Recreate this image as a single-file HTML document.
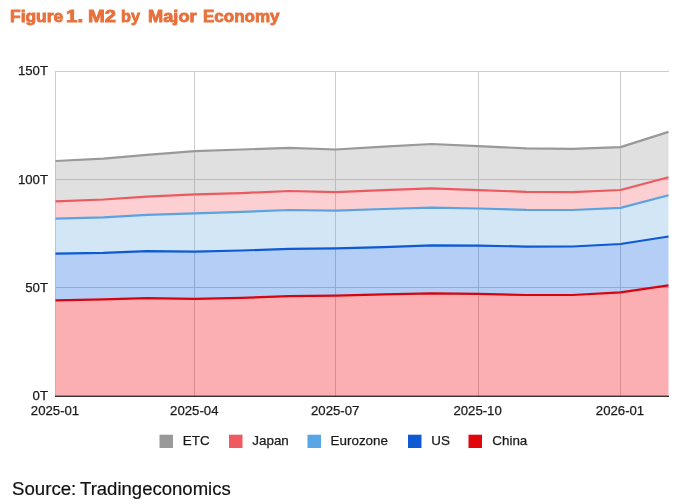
<!DOCTYPE html>
<html><head><meta charset="utf-8"><title>Figure 1. M2 by Major Economy</title>
<style>
html,body{margin:0;padding:0;background:#fff}
body{width:680px;height:504px;position:relative;overflow:hidden;font-family:"Liberation Sans",Arial,sans-serif}
.title{position:absolute;left:0;top:5.0px;width:680px;height:22px;font-size:16.3px;font-weight:bold;color:#e8703a;-webkit-text-stroke:0.8px #e8703a;white-space:nowrap;line-height:22px}
.source{-webkit-text-stroke:0.2px #111;position:absolute;left:0;top:476.7px;width:680px;height:24px;font-size:18.3px;color:#111;white-space:nowrap;line-height:24px}
.title span,.source span{position:absolute;top:0;transform-origin:0 50%;display:block}
</style></head><body>
<div class="title" id="title"><span style="left:10.0px;transform:scaleX(1.07)">Figure</span> <span style="left:65.6px;transform:scaleX(1.26)">1.</span> <span style="left:87.9px;transform:scaleX(1.24)">M2</span> <span style="left:121.0px;transform:scaleX(1.0)">by</span> <span style="left:147.6px;transform:scaleX(1.12)">Major</span> <span style="left:203.2px;transform:scaleX(1.045)">Economy</span></div>
<svg width="680" height="504" viewBox="0 0 680 504" style="position:absolute;left:0;top:0">
<rect x="55" y="71" width="1" height="325" fill="#cccccc"/>
<rect x="194" y="71" width="1" height="325" fill="#cccccc"/>
<rect x="335" y="71" width="1" height="325" fill="#cccccc"/>
<rect x="478" y="71" width="1" height="325" fill="#cccccc"/>
<rect x="620" y="71" width="1" height="325" fill="#cccccc"/>
<rect x="55" y="71" width="614" height="1" fill="#cccccc"/>
<rect x="55" y="179" width="614" height="1" fill="#cccccc"/>
<rect x="55" y="287" width="614" height="1" fill="#cccccc"/>
<polygon points="55.5,300.3 103.5,299.4 146.8,298.2 194.8,298.8 241.3,297.9 289.2,296.2 335.7,295.7 383.7,294.4 431.7,293.3 478.1,293.8 526.1,295.0 572.5,295.0 620.5,292.3 668.5,285.4 668.5,396.0 620.5,396.0 572.5,396.0 526.1,396.0 478.1,396.0 431.7,396.0 383.7,396.0 335.7,396.0 289.2,396.0 241.3,396.0 194.8,396.0 146.8,396.0 103.5,396.0 55.5,396.0" fill="#f20511" fill-opacity="0.32"/>
<polygon points="55.5,253.7 103.5,252.9 146.8,251.1 194.8,251.7 241.3,250.5 289.2,248.8 335.7,248.4 383.7,247.1 431.7,245.4 478.1,245.6 526.1,246.6 572.5,246.5 620.5,244.0 668.5,236.5 668.5,285.4 620.5,292.3 572.5,295.0 526.1,295.0 478.1,293.8 431.7,293.3 383.7,294.4 335.7,295.7 289.2,296.2 241.3,297.9 194.8,298.8 146.8,298.2 103.5,299.4 55.5,300.3" fill="#085cde" fill-opacity="0.3"/>
<polygon points="55.5,218.6 103.5,217.4 146.8,214.8 194.8,213.3 241.3,211.9 289.2,210.0 335.7,210.6 383.7,209.0 431.7,207.6 478.1,208.5 526.1,209.8 572.5,210.0 620.5,207.9 668.5,195.2 668.5,236.5 620.5,244.0 572.5,246.5 526.1,246.6 478.1,245.6 431.7,245.4 383.7,247.1 335.7,248.4 289.2,248.8 241.3,250.5 194.8,251.7 146.8,251.1 103.5,252.9 55.5,253.7" fill="#69ace1" fill-opacity="0.3"/>
<polygon points="55.5,201.4 103.5,199.5 146.8,196.7 194.8,194.3 241.3,193.1 289.2,191.0 335.7,192.2 383.7,190.2 431.7,188.3 478.1,190.1 526.1,191.8 572.5,192.1 620.5,190.0 668.5,177.3 668.5,195.2 620.5,207.9 572.5,210.0 526.1,209.8 478.1,208.5 431.7,207.6 383.7,209.0 335.7,210.6 289.2,210.0 241.3,211.9 194.8,213.3 146.8,214.8 103.5,217.4 55.5,218.6" fill="#f55f69" fill-opacity="0.3"/>
<polygon points="55.5,161.0 103.5,158.6 146.8,154.8 194.8,151.1 241.3,149.5 289.2,147.9 335.7,149.5 383.7,146.7 431.7,144.0 478.1,146.2 526.1,148.3 572.5,148.9 620.5,147.1 668.5,131.9 668.5,177.3 620.5,190.0 572.5,192.1 526.1,191.8 478.1,190.1 431.7,188.3 383.7,190.2 335.7,192.2 289.2,191.0 241.3,193.1 194.8,194.3 146.8,196.7 103.5,199.5 55.5,201.4" fill="#999999" fill-opacity="0.3"/>
<polyline points="55.5,300.3 103.5,299.4 146.8,298.2 194.8,298.8 241.3,297.9 289.2,296.2 335.7,295.7 383.7,294.4 431.7,293.3 478.1,293.8 526.1,295.0 572.5,295.0 620.5,292.3 668.5,285.4" fill="none" stroke="#d6040e" stroke-width="2.2" stroke-linejoin="round"/>
<polyline points="55.5,253.7 103.5,252.9 146.8,251.1 194.8,251.7 241.3,250.5 289.2,248.8 335.7,248.4 383.7,247.1 431.7,245.4 478.1,245.6 526.1,246.6 572.5,246.5 620.5,244.0 668.5,236.5" fill="none" stroke="#0d5ad2" stroke-width="2.2" stroke-linejoin="round"/>
<polyline points="55.5,218.6 103.5,217.4 146.8,214.8 194.8,213.3 241.3,211.9 289.2,210.0 335.7,210.6 383.7,209.0 431.7,207.6 478.1,208.5 526.1,209.8 572.5,210.0 620.5,207.9 668.5,195.2" fill="none" stroke="#5aa3e0" stroke-width="2.2" stroke-linejoin="round"/>
<polyline points="55.5,201.4 103.5,199.5 146.8,196.7 194.8,194.3 241.3,193.1 289.2,191.0 335.7,192.2 383.7,190.2 431.7,188.3 478.1,190.1 526.1,191.8 572.5,192.1 620.5,190.0 668.5,177.3" fill="none" stroke="#ec5a60" stroke-width="2.2" stroke-linejoin="round"/>
<polyline points="55.5,161.0 103.5,158.6 146.8,154.8 194.8,151.1 241.3,149.5 289.2,147.9 335.7,149.5 383.7,146.7 431.7,144.0 478.1,146.2 526.1,148.3 572.5,148.9 620.5,147.1 668.5,131.9" fill="none" stroke="#999999" stroke-width="2.2" stroke-linejoin="round"/>
<rect x="55" y="395.6" width="614" height="1.4" fill="#333333"/>
<text x="48" y="75.3" text-anchor="end" font-family="Liberation Sans, Arial, sans-serif" font-size="13.2" fill="#1a1a1a" stroke="#1a1a1a" stroke-width="0.25">150T</text>
<text x="48" y="183.5" text-anchor="end" font-family="Liberation Sans, Arial, sans-serif" font-size="13.2" fill="#1a1a1a" stroke="#1a1a1a" stroke-width="0.25">100T</text>
<text x="48" y="291.6" text-anchor="end" font-family="Liberation Sans, Arial, sans-serif" font-size="13.2" fill="#1a1a1a" stroke="#1a1a1a" stroke-width="0.25">50T</text>
<text x="48" y="399.8" text-anchor="end" font-family="Liberation Sans, Arial, sans-serif" font-size="13.2" fill="#1a1a1a" stroke="#1a1a1a" stroke-width="0.25">0T</text>
<text x="55.0" y="414.6" text-anchor="middle" font-family="Liberation Sans, Arial, sans-serif" font-size="13.2" fill="#1a1a1a" stroke="#1a1a1a" stroke-width="0.25">2025-01</text>
<text x="194.3" y="414.6" text-anchor="middle" font-family="Liberation Sans, Arial, sans-serif" font-size="13.2" fill="#1a1a1a" stroke="#1a1a1a" stroke-width="0.25">2025-04</text>
<text x="335.2" y="414.6" text-anchor="middle" font-family="Liberation Sans, Arial, sans-serif" font-size="13.2" fill="#1a1a1a" stroke="#1a1a1a" stroke-width="0.25">2025-07</text>
<text x="477.6" y="414.6" text-anchor="middle" font-family="Liberation Sans, Arial, sans-serif" font-size="13.2" fill="#1a1a1a" stroke="#1a1a1a" stroke-width="0.25">2025-10</text>
<text x="620.0" y="414.6" text-anchor="middle" font-family="Liberation Sans, Arial, sans-serif" font-size="13.2" fill="#1a1a1a" stroke="#1a1a1a" stroke-width="0.25">2026-01</text>
<rect x="159.5" y="434.7" width="13.5" height="13.3" fill="#999999"/>
<text x="182.8" y="445.3" font-family="Liberation Sans, Arial, sans-serif" font-size="13.4" fill="#1a1a1a" stroke="#1a1a1a" stroke-width="0.25">ETC</text>
<rect x="229" y="434.7" width="13.5" height="13.3" fill="#ee5a60"/>
<text x="252.3" y="445.3" font-family="Liberation Sans, Arial, sans-serif" font-size="13.4" fill="#1a1a1a" stroke="#1a1a1a" stroke-width="0.25">Japan</text>
<rect x="307.5" y="434.7" width="13.5" height="13.3" fill="#58a6e4"/>
<text x="330.6" y="445.3" font-family="Liberation Sans, Arial, sans-serif" font-size="13.4" fill="#1a1a1a" stroke="#1a1a1a" stroke-width="0.25">Eurozone</text>
<rect x="408" y="434.7" width="13.5" height="13.3" fill="#0d5ad2"/>
<text x="431.3" y="445.3" font-family="Liberation Sans, Arial, sans-serif" font-size="13.4" fill="#1a1a1a" stroke="#1a1a1a" stroke-width="0.25">US</text>
<rect x="468.5" y="434.7" width="13.5" height="13.3" fill="#e0060c"/>
<text x="492.3" y="445.3" font-family="Liberation Sans, Arial, sans-serif" font-size="13.4" fill="#1a1a1a" stroke="#1a1a1a" stroke-width="0.25">China</text>
</svg>
<div class="source" id="source"><span style="left:11.6px;transform:scaleX(1.02)">Source:</span> <span style="left:80.4px;transform:scaleX(1.014)">Tradingeconomics</span></div>
</body></html>
